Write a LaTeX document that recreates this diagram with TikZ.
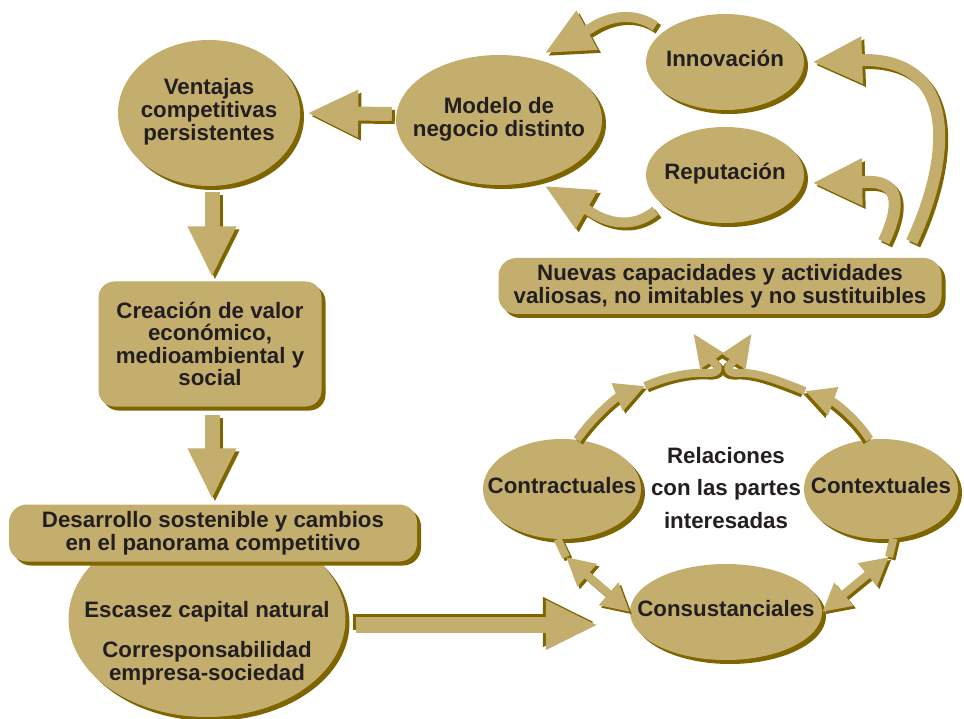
\documentclass[tikz,border=0pt]{standalone}
\usepackage{fontspec}
\setmainfont{Liberation Sans}
\usetikzlibrary{shapes.geometric,shadows,arrows.meta}
\definecolor{tanc}{HTML}{C4AE6E}
\definecolor{shc}{HTML}{7F6500}
\definecolor{txtc}{HTML}{231F20}
\newcommand\ovl[2][0pt]{\makebox[0pt]{\raisebox{#1}{\begin{tabular}{@{}c@{}}#2\end{tabular}}}}
\newcommand\fatarr[4]{%
  \draw[#1, draw=shc, transform canvas={xshift=#2,yshift=#3}] #4;
  \draw[#1, draw=tanc] #4;}
\begin{document}
\begin{tikzpicture}[x=1pt,y=-1pt,
  lbl/.style={font=\fontsize{22.3}{22.5}\selectfont\bfseries, text=txtc},
  blob/.style={lbl, fill=tanc, draw=none, inner sep=0pt,
    drop shadow={shadow xshift=4pt, shadow yshift=-4pt, fill=shc, opacity=1}},
  oval/.style={blob, ellipse},
  rbox/.style={blob, rectangle, rounded corners=16pt, align=center},
  line join=round]
\fill[white] (0,0) rectangle (964,719);
\useasboundingbox (0,0) rectangle (964,719);

% nodes
\node[oval, minimum width=182pt, minimum height=146pt] (ventajas) at (209,113)
  {\ovl[5pt]{Ventajas\\competitivas\\persistentes}};
\node[oval, minimum width=206pt, minimum height=130pt] (modelo) at (499,120)
  {\ovl[9pt]{Modelo de\\negocio distinto}};
\node[oval, minimum width=158pt, minimum height=96pt] (innov) at (725,62) {\ovl{Innovación}};
\node[oval, minimum width=158pt, minimum height=96pt] (reput) at (725,175) {\ovl{Reputación}};
\node[rbox, minimum width=223pt, minimum height=125pt] (creacion) at (210,344)
  {Creación de valor\\económico,\\medioambiental y\\social};
\node[oval, minimum width=277pt, minimum height=196pt] (escasez) at (207,619) {};
\node[rbox, rounded corners=18pt, minimum width=408pt, minimum height=57pt] (desarrollo) at (213,533)
  {Desarrollo sostenible y cambios\\en el panorama competitivo};
\node[lbl, align=center] (escasezt) at (207,643)
  {Escasez capital natural\\[18pt]Corresponsabilidad\\empresa-sociedad};
\node[rbox, rounded corners=18pt, minimum width=443pt, minimum height=56pt] (nuevas) at (720,286)
  {Nuevas capacidades y actividades\\valiosas, no imitables y no sustituibles};
\node[oval, minimum width=158pt, minimum height=100pt] (contr) at (562,489) {\ovl{Contractuales}};
\node[oval, minimum width=154pt, minimum height=100pt] (context) at (881,489) {\ovl{Contextuales}};
\node[oval, minimum width=192pt, minimum height=96pt] (consust) at (726,612) {\ovl{Consustanciales}};
\node[lbl, align=center] (relac) at (726,488) {Relaciones\\[10pt]con las partes\\[10pt]interesadas};

% free points
\coordinate (ml) at (645,386);
\coordinate (mr) at (805,391);
\coordinate (jl) at (693,333);
\coordinate (jr) at (752,333);
\coordinate (bl) at (566,557);
\coordinate (br) at (889,557);

% main chain
\fatarr{line width=14pt, -{Triangle[length=51pt,width=44pt]}}{3pt}{-3pt}
  {([xshift=-4pt,yshift=6pt]modelo.west) -- ([xshift=7pt]ventajas.east)}
\fatarr{line width=15pt, -{Triangle[length=51pt,width=45pt]}}{3pt}{-3pt}
  {([xshift=3pt,yshift=-6pt]ventajas.south) -- ([xshift=2pt,yshift=4pt]creacion.north)}
\fatarr{line width=15pt, -{Triangle[length=51pt,width=45pt]}}{3pt}{-3pt}
  {([xshift=2pt,yshift=-8pt]creacion.south) -- ([xshift=-1pt,yshift=5pt]desarrollo.north)}
\fatarr{line width=16pt, -{Triangle[length=52pt,width=46pt]}}{-3pt}{3pt}
  {([xshift=10pt,yshift=-6pt]escasez.east) -- ([xshift=-32pt,yshift=-13pt]consust.west)}

% nuevas -> innovacion / reputacion
\fatarr{line width=12pt, -{Triangle[length=50pt,width=44pt]}}{3pt}{-3pt}
  {([xshift=-30pt,yshift=16pt]nuevas.north east) .. controls (948,165) and (962,62) .. (866,60) -- ([xshift=8pt]innov.east)}
\fatarr{line width=12pt, -{Triangle[length=50pt,width=44pt]}}{3pt}{-3pt}
  {([xshift=-58pt,yshift=16pt]nuevas.north east) .. controls (898,212) and (904,180) .. (866,182) -- ([xshift=8pt,yshift=-8pt]reput.east)}

% innovacion / reputacion -> modelo
\fatarr{line width=10pt, -{Triangle[length=48pt,width=42pt]}}{3pt}{-3pt}
  {([xshift=-10pt,yshift=4pt]innov.152) .. controls (632,10) and (606,18) .. (591,28) -- ([xshift=46pt,yshift=67pt]modelo.center)}
\fatarr{line width=10pt, -{Triangle[length=48pt,width=42pt]}}{3pt}{-3pt}
  {([xshift=-10pt,yshift=-4pt]reput.-152) .. controls (632,230) and (606,222) .. (591,212) -- ([xshift=46pt,yshift=-66pt]modelo.center)}

% relations cycle
\fatarr{line width=8pt, -{Triangle[length=30pt,width=28pt]}}{2.5pt}{-2.5pt}
  {(contr.73) .. controls (592,418) and (615,398) .. (ml)}
\fatarr{line width=8pt, -{Triangle[length=34pt,width=26pt]}}{2.5pt}{-2.5pt}
  {(ml) .. controls (668,376) and (690,372) .. (706,373) .. controls (721,374) and (720,366) .. (712,361) -- (jl)}
\fatarr{line width=8pt, -{Triangle[length=30pt,width=28pt]}}{-2.5pt}{-2.5pt}
  {(context.103) .. controls (858,420) and (835,402) .. (mr)}
\fatarr{line width=8pt, -{Triangle[length=34pt,width=26pt]}}{-2.5pt}{-2.5pt}
  {(mr) .. controls (782,382) and (758,372) .. (740,373) .. controls (725,374) and (726,366) .. (734,361) -- (jr)}
\fatarr{line width=8pt}{2.5pt}{-2.5pt}{(contr.-95) -- (bl)}
\fatarr{line width=8pt, {Triangle[length=28pt,width=28pt]}-{Triangle[length=28pt,width=28pt]}}{2.5pt}{-2.5pt}
  {(bl) -- (consust.west)}
\fatarr{line width=8pt}{2.5pt}{-2.5pt}{(context.-76) -- (br)}
\fatarr{line width=8pt, {Triangle[length=28pt,width=28pt]}-{Triangle[length=28pt,width=28pt]}}{2.5pt}{-2.5pt}
  {(br) -- (consust.east)}
\end{tikzpicture}
\end{document}
